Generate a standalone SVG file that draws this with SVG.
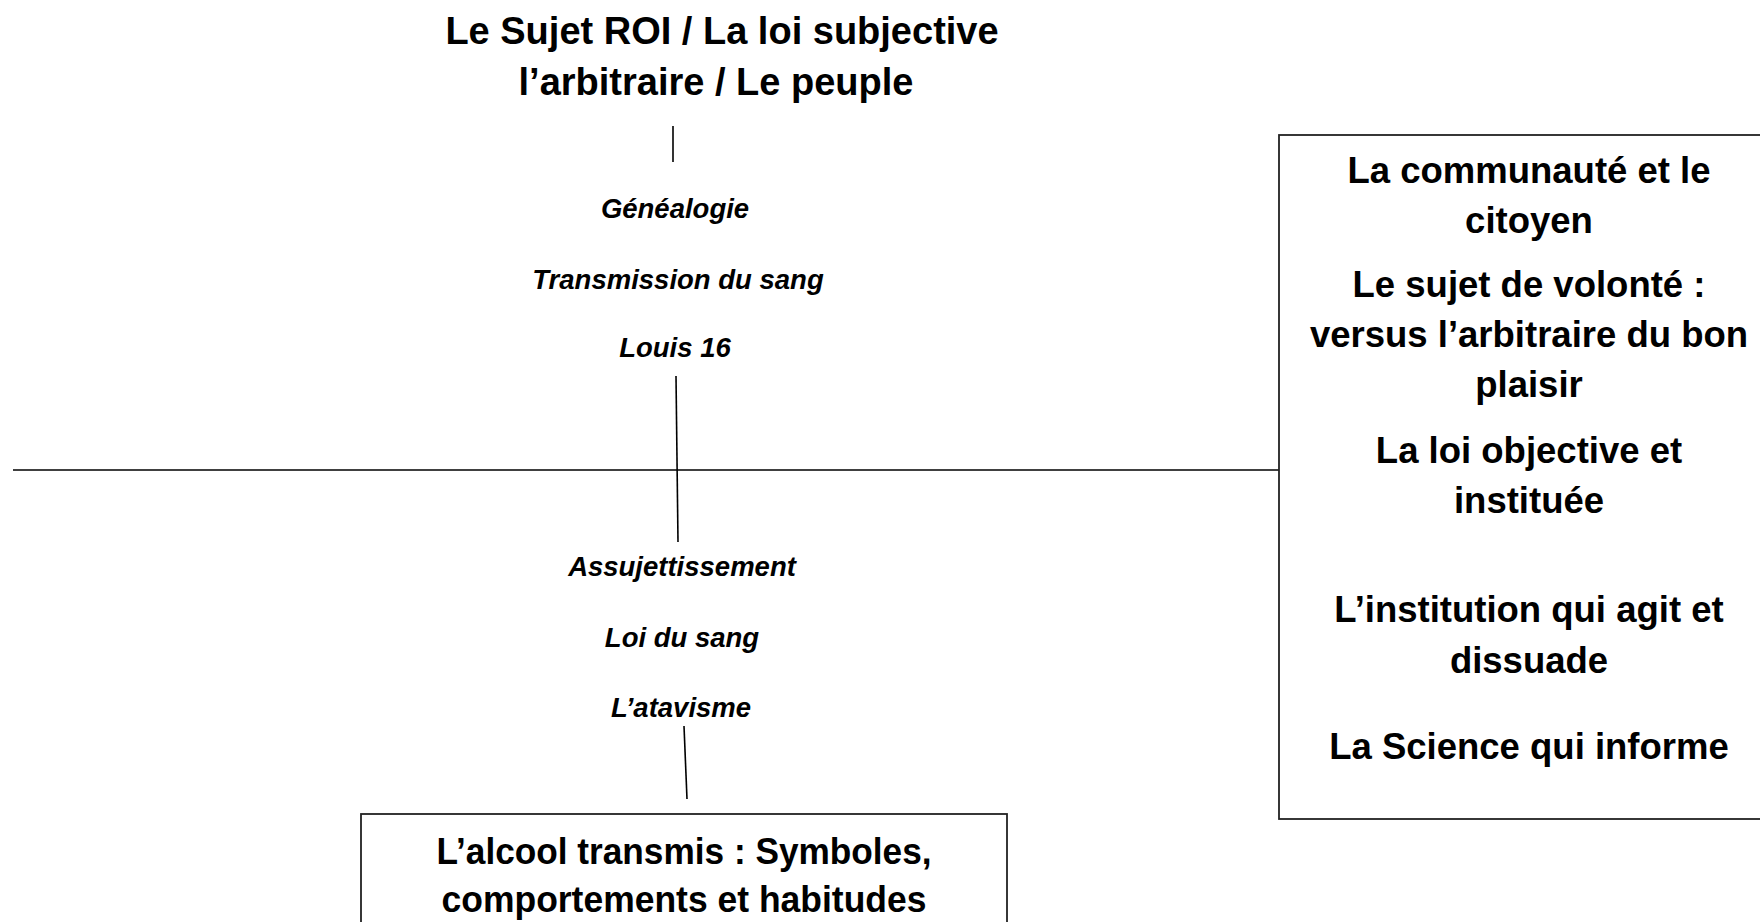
<svg xmlns="http://www.w3.org/2000/svg" width="1760" height="922" viewBox="0 0 1760 922">
  <style>
    .b { font-family: "Liberation Sans", Arial, sans-serif; font-weight: bold; font-size: 36.5px; fill: #000; text-anchor: middle; }
    .t { font-size: 38px; }
    .i { font-family: "Liberation Sans", Arial, sans-serif; font-weight: bold; font-style: italic; font-size: 27.5px; fill: #000; text-anchor: middle; }
    .ln { stroke: #000; stroke-width: 1.6; fill: none; }
    .box { stroke: #222; stroke-width: 1.8; fill: #fff; }
  </style>
  <rect width="1760" height="922" fill="#fff"/>
  <g id="connectors">
    <line class="ln" x1="13" y1="470" x2="1279" y2="470"/>
    <line class="ln" x1="673" y1="126" x2="673" y2="162"/>
    <line class="ln" x1="676" y1="376" x2="678" y2="542"/>
    <line class="ln" x1="684" y1="726" x2="687" y2="799"/>
  </g>
  <g id="title">
    <text class="b t" x="722" y="44">Le Sujet ROI / La loi subjective</text>
    <text class="b t" x="716" y="95">l’arbitraire / Le peuple</text>
  </g>
  <g id="top-labels">
    <text class="i" x="675" y="218">Généalogie</text>
    <text class="i" x="678" y="289">Transmission du sang</text>
    <text class="i" x="675" y="357">Louis 16</text>
  </g>
  <g id="bottom-labels">
    <text class="i" x="682" y="576">Assujettissement</text>
    <text class="i" x="682" y="647">Loi du sang</text>
    <text class="i" x="681" y="717">L’atavisme</text>
  </g>
  <g id="alcool-box">
    <rect class="box" x="361" y="814" width="646" height="130"/>
    <text class="b" x="684" y="864" textLength="495" lengthAdjust="spacingAndGlyphs">L’alcool transmis : Symboles,</text>
    <text class="b" x="684" y="912" textLength="485" lengthAdjust="spacingAndGlyphs">comportements et habitudes</text>
  </g>
  <g id="right-box">
    <rect class="box" x="1279" y="135" width="490" height="684"/>
    <text class="b" x="1529" y="183">La communauté et le</text>
    <text class="b" x="1529" y="233">citoyen</text>
    <text class="b" x="1529" y="297">Le sujet de volonté :</text>
    <text class="b" x="1529" y="347">versus l’arbitraire du bon</text>
    <text class="b" x="1529" y="397">plaisir</text>
    <text class="b" x="1529" y="463">La loi objective et</text>
    <text class="b" x="1529" y="513">instituée</text>
    <text class="b" x="1529" y="622">L’institution qui agit et</text>
    <text class="b" x="1529" y="673">dissuade</text>
    <text class="b" x="1529" y="759">La Science qui informe</text>
  </g>
</svg>
